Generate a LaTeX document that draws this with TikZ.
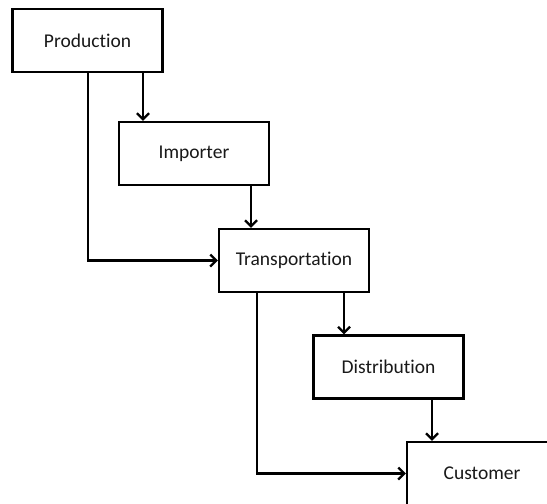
\documentclass[tikz,border=0pt]{standalone}
\usepackage{fontspec}
\setmainfont{Carlito}[Ligatures=NoCommon]
\usetikzlibrary{arrows.meta}
\begin{document}
\begin{tikzpicture}[x=1pt,y=-1pt,
  box/.style={draw=black,line width=2.4pt,fill=white,minimum width=150pt,minimum height=63pt,inner sep=0pt,font=\fontsize{19.5}{22}\selectfont,text=black!90},
  arr/.style={draw=black,line width=2.4pt,-{Straight Barb[length=6pt,width=12pt,line width=2.2pt]}}]
\clip (0,0) rectangle (547,504);
\fill[white] (0,0) rectangle (547,504);
\node[box] (prod) at (87.5,40.5) {Production};
\node[box] (imp) at (194,153.5) {Importer};
\node[box] (trans) at (294,260.5) {Transportation};
\node[box] (dist) at (388.5,367) {Distribution};
\node[box] (cust) at (482,473.5) {Customer};
\coordinate (x1) at (143,0);
\coordinate (x2) at (88,0);
\coordinate (x3) at (251,0);
\coordinate (x4) at (344,0);
\coordinate (x5) at (257,0);
\coordinate (x6) at (432,0);
\draw[arr] (prod.south -| x1) -- (imp.north -| x1);
\draw[arr] (prod.south -| x2) |- (trans.west);
\draw[arr] (imp.south -| x3) -- (trans.north -| x3);
\draw[arr] (trans.south -| x4) -- (dist.north -| x4);
\draw[arr] (trans.south -| x5) |- (cust.west);
\draw[arr] (dist.south -| x6) -- (cust.north -| x6);
\end{tikzpicture}
\end{document}
